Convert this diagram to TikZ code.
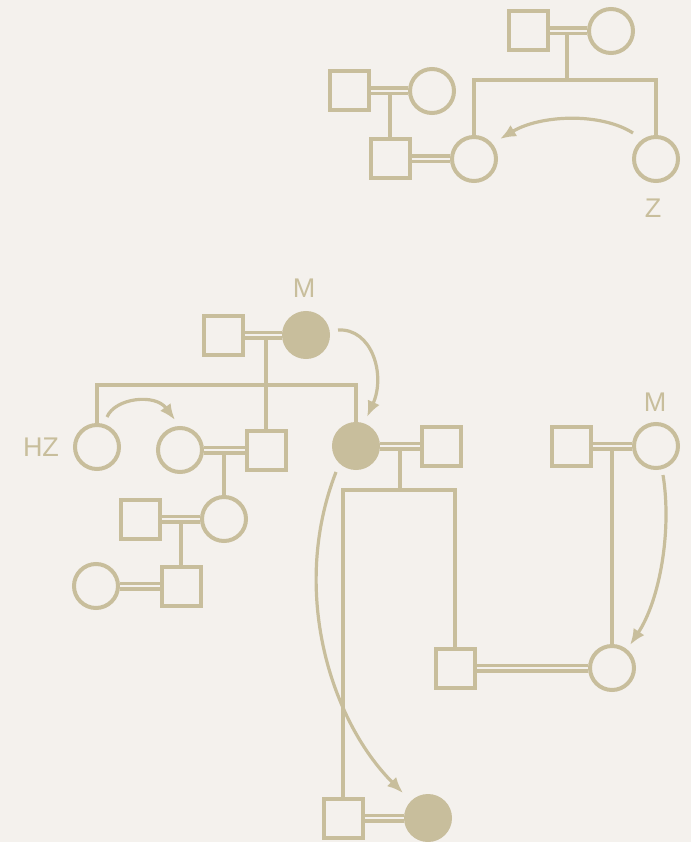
\documentclass[tikz,border=0pt]{standalone}
\usepackage{fontspec}
\setmainfont{Liberation Sans}
\usetikzlibrary{arrows.meta}
\definecolor{ink}{RGB}{200,190,156}
\definecolor{paper}{RGB}{244,241,237}
\begin{document}
\begin{tikzpicture}[x=1pt,y=-1pt,
  line width=4pt,
  male/.style={draw=ink,rectangle,minimum size=39pt,inner sep=0pt,line width=4pt},
  female/.style={draw=ink,circle,minimum size=44pt,inner sep=0pt,line width=4pt},
  affected/.style={fill=ink},
  lbl/.style={text=ink,font=\fontsize{27}{27}\selectfont,inner sep=0pt},
  marriage/.style={draw=ink,double=paper,double distance=2.6pt,line width=3.2pt},
  descent/.style={draw=ink,line width=4pt},
  relarrow/.style={draw=ink,line width=3.2pt,-{Latex[length=16pt,width=13pt]}},
]
\fill[paper] (0,0) rectangle (691,842);
\useasboundingbox (0,0) rectangle (691,842);

% ---------- top family ----------
\node[male]   (t1) at (528,31) {};
\node[female] (t2) at (611,31) {};
\node[male]   (t4) at (349,91) {};
\node[female] (t5) at (432,91) {};
\node[male]   (t6) at (390,159) {};
\node[female] (t3) at (474,159) {};
\node[female] (Z)  at (656,159) {};
\node[lbl] (zl) at (653,208) {Z};

\coordinate (tm) at (567,31);
\coordinate (tb) at (567,80);
\coordinate (lm) at (390,91);
\draw[descent] (tm) -- (tb);
\draw[descent] (t3.north) |- (tb) -| (Z.north);
\draw[descent] (lm) -- (t6.north);

\draw[marriage] (t1) -- (t2);
\draw[marriage] (t4) -- (t5);
\draw[marriage] (t6) -- (t3);

\draw[relarrow] ([shift={(-23,-26)}]Z.center) .. controls (600,112) and (540,115) .. ([shift={(26,-20)}]t3.center);

% ---------- middle family ----------
\node[male]             (m1) at (223,335) {};
\node[female,affected]  (m2) at (306,335) {};
\node[lbl] (ml1) at (304,288) {M};
\node[female] (hz) at (97,447) {};
\node[lbl] (hzl) at (41,447) {HZ};
\node[female] (m3) at (180,450) {};
\node[male]   (m4) at (266,450) {};
\node[female,affected] (m5) at (356,446) {};
\node[male]   (m6) at (441,446) {};
\node[male]   (p1) at (140,519) {};
\node[female] (p2) at (224,519) {};
\node[female] (p4) at (96,586) {};
\node[male]   (p3) at (181,586) {};
\node[male]   (r1) at (571,446) {};
\node[female] (r2) at (656,446) {};
\node[lbl] (ml2) at (655,402) {M};
\node[male]   (s1) at (455,668) {};
\node[female] (r3) at (612,668) {};
\node[male]   (b1) at (343,818) {};
\node[female,affected] (b2) at (428,818) {};

\coordinate (mm) at (266,335);
\coordinate (mb) at (266,385);
\coordinate (pm) at (224,450);
\coordinate (qm) at (181,519);
\coordinate (cm) at (400,446);
\coordinate (cb) at (400,490);
\coordinate (rm) at (612,446);

\draw[descent] (mm) -- (m4.north);
\draw[descent] (hz.north) |- (mb) -| (m5.north);
\draw[descent] (pm) -- (p2.north);
\draw[descent] (qm) -- (p3.north);
\draw[descent] (cm) -- (cb);
\draw[descent] (b1.north) |- (cb) -| (s1.north);
\draw[descent] (rm) -- (r3.north);

\draw[marriage] (m1) -- (m2);
\draw[marriage] (m3) -- (m4);
\draw[marriage] (m5) -- (m6);
\draw[marriage] (p1) -- (p2);
\draw[marriage] (p4) -- (p3);
\draw[marriage] (r1) -- (r2);
\draw[marriage] (s1) -- (r3);
\draw[marriage] (b1) -- (b2);

\draw[relarrow] ([shift={(32,-5)}]m2.center) .. controls (372,328) and (386,375) .. ([shift={(11,-29)}]m5.center);
\draw[relarrow] ([shift={(10,-30)}]hz.center) .. controls (115,398) and (155,393) .. ([shift={(-5,-30)}]m3.center);
\draw[relarrow] ([shift={(7,29)}]r2.center) .. controls (672,530) and (660,600) .. ([shift={(18,-23)}]r3.center);
\draw[relarrow] ([shift={(-20,26)}]m5.center) .. controls (290,590) and (330,720) .. ([shift={(-25,-25)}]b2.center);
\end{tikzpicture}
\end{document}
